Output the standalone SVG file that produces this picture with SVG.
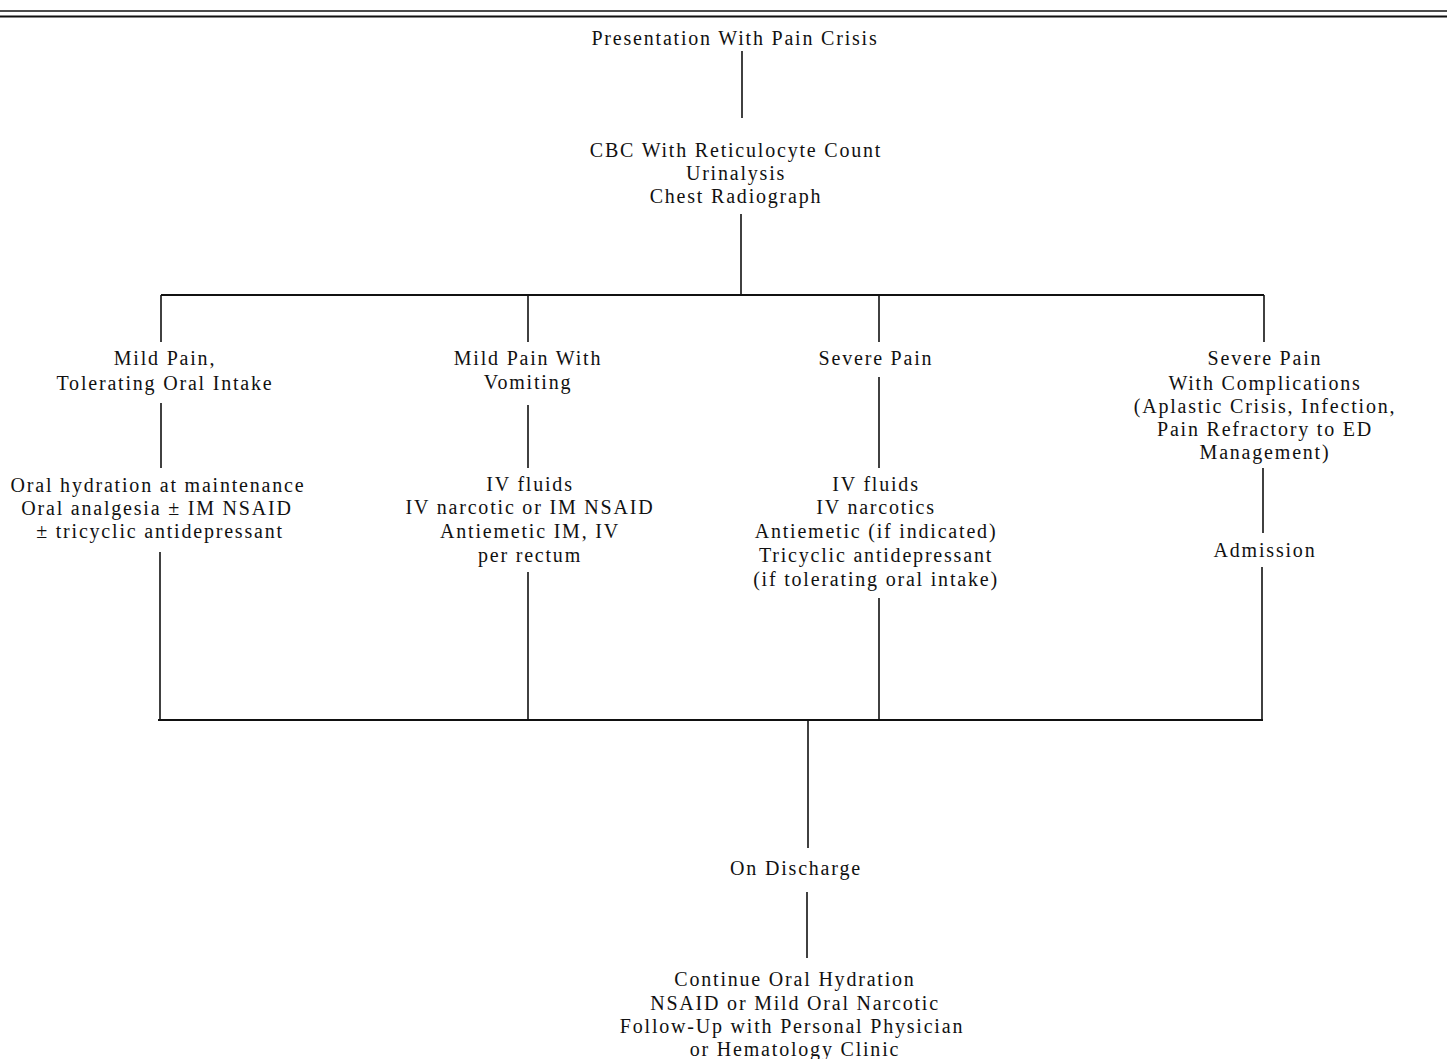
<svg xmlns="http://www.w3.org/2000/svg" width="1447" height="1059" viewBox="0 0 1447 1059">
<style>
text{font-family:"Liberation Serif","Times New Roman",serif;font-size:20px;fill:#111;text-anchor:middle;letter-spacing:1.8px}
.c{stroke:#111;stroke-width:1.6;fill:none}
.b{stroke:#111;stroke-width:2.2;fill:none}
</style>
<rect width="1447" height="1059" fill="#fff"/>
<line class="c" x1="0" y1="11" x2="1447" y2="11"/>
<line class="b" x1="0" y1="16.5" x2="1447" y2="16.5"/>
<g id="connectors">
<line class="c" x1="742" y1="51" x2="742" y2="118"/>
<line class="c" x1="741" y1="214" x2="741" y2="295"/>
<line class="b" x1="161" y1="295" x2="1264" y2="295"/>
<line class="c" x1="161" y1="295" x2="161" y2="342"/>
<line class="c" x1="528" y1="295" x2="528" y2="342"/>
<line class="c" x1="879" y1="295" x2="879" y2="342"/>
<line class="c" x1="1264" y1="295" x2="1264" y2="342"/>
<line class="c" x1="161" y1="403" x2="161" y2="468"/>
<line class="c" x1="528" y1="405" x2="528" y2="468"/>
<line class="c" x1="879" y1="377" x2="879" y2="468"/>
<line class="c" x1="1263" y1="468" x2="1263" y2="533"/>
<line class="c" x1="160" y1="552" x2="160" y2="720"/>
<line class="c" x1="528" y1="572" x2="528" y2="720"/>
<line class="c" x1="879" y1="598" x2="879" y2="720"/>
<line class="c" x1="1262" y1="567" x2="1262" y2="720"/>
<line class="b" x1="158" y1="720" x2="1263" y2="720"/>
<line class="c" x1="808" y1="720" x2="808" y2="848"/>
<line class="c" x1="807" y1="892" x2="807" y2="958"/>
</g>
<g id="n-presentation"><text x="735" y="45">Presentation With Pain Crisis</text></g>
<g id="n-cbc">
<text x="736" y="157">CBC With Reticulocyte Count</text>
<text x="736" y="180">Urinalysis</text>
<text x="736" y="203">Chest Radiograph</text>
</g>
<g id="n-mild"><text x="165" y="365">Mild Pain,</text><text x="165" y="390">Tolerating Oral Intake</text></g>
<g id="n-mild-tx">
<text x="158" y="492">Oral hydration at maintenance</text>
<text x="157" y="515">Oral analgesia ± IM NSAID</text>
<text x="160" y="538">± tricyclic antidepressant</text>
</g>
<g id="n-vomit"><text x="528" y="365">Mild Pain With</text><text x="528" y="389">Vomiting</text></g>
<g id="n-vomit-tx">
<text x="530" y="491">IV fluids</text>
<text x="530" y="514">IV narcotic or IM NSAID</text>
<text x="530" y="538">Antiemetic IM, IV</text>
<text x="530" y="562">per rectum</text>
</g>
<g id="n-severe"><text x="876" y="365">Severe Pain</text></g>
<g id="n-severe-tx">
<text x="876" y="491">IV fluids</text>
<text x="876" y="514">IV narcotics</text>
<text x="876" y="538">Antiemetic (if indicated)</text>
<text x="876" y="562">Tricyclic antidepressant</text>
<text x="876" y="586">(if tolerating oral intake)</text>
</g>
<g id="n-complic">
<text x="1265" y="365">Severe Pain</text>
<text x="1265" y="390">With Complications</text>
<text x="1265" y="413">(Aplastic Crisis, Infection,</text>
<text x="1265" y="436">Pain Refractory to ED</text>
<text x="1265" y="459">Management)</text>
</g>
<g id="n-admission"><text x="1265" y="557">Admission</text></g>
<g id="n-discharge"><text x="796" y="875">On Discharge</text></g>
<g id="n-final">
<text x="795" y="986">Continue Oral Hydration</text>
<text x="795" y="1010">NSAID or Mild Oral Narcotic</text>
<text x="792" y="1033">Follow-Up with Personal Physician</text>
<text x="795" y="1056">or Hematology Clinic</text>
</g>
</svg>
